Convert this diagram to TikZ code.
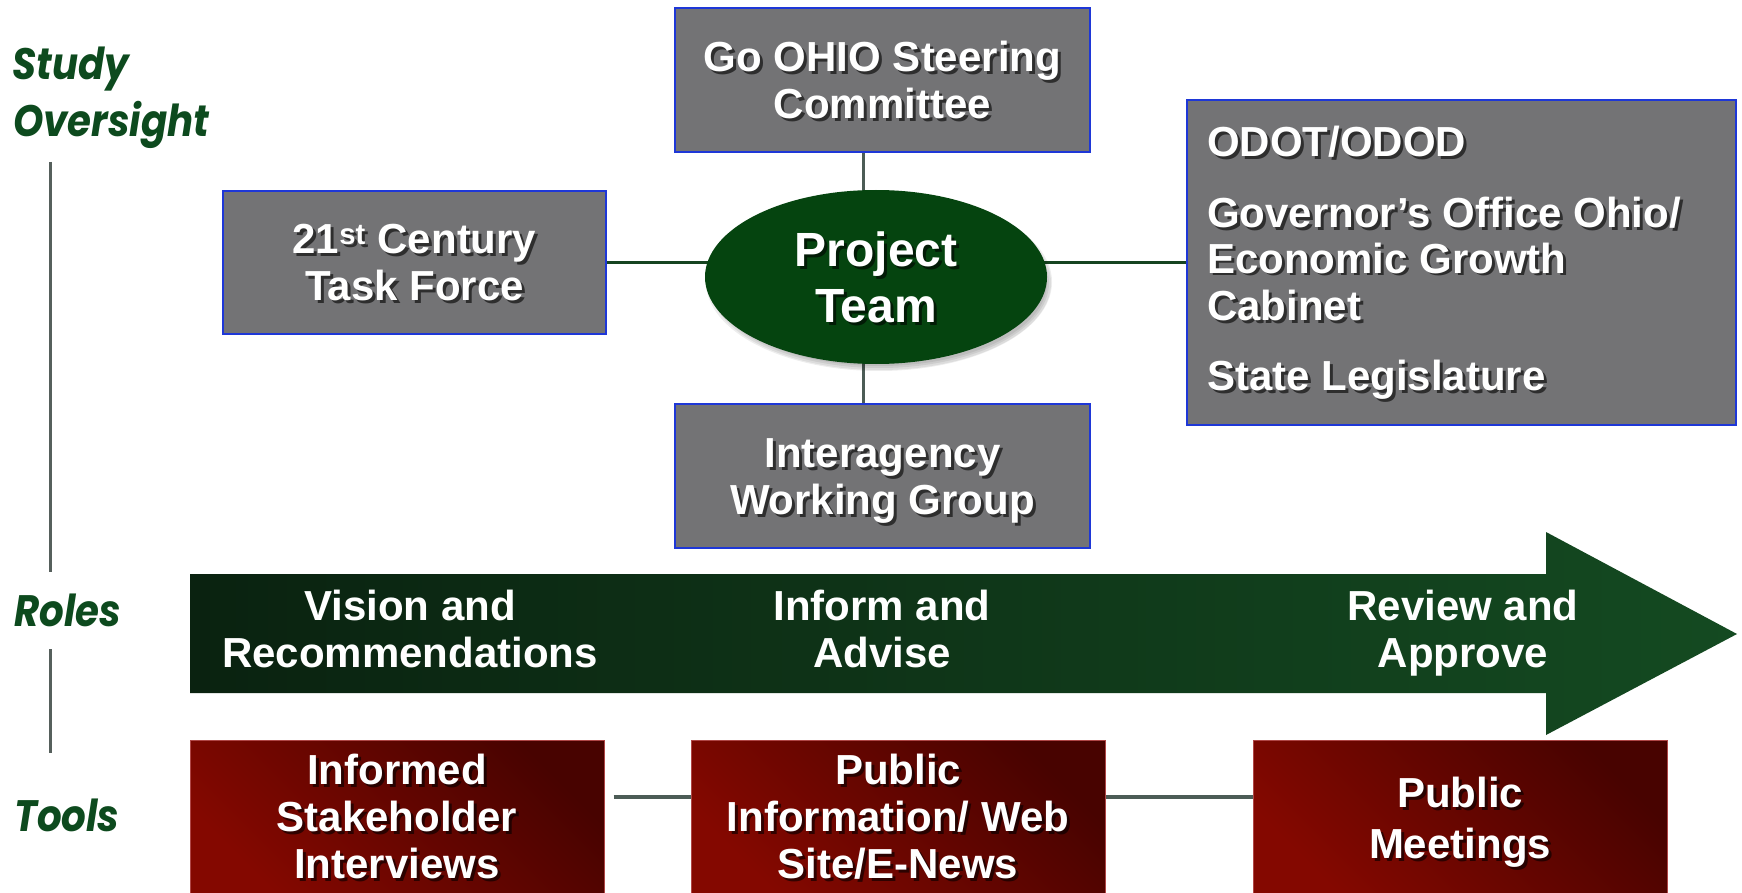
\documentclass[tikz,border=0pt]{standalone}
\usepackage{fontspec}
\setmainfont{Liberation Sans}
\newfontfamily\labfont{Poppins}[FakeStretch=0.88]
\usetikzlibrary{shapes.geometric,backgrounds}
\definecolor{boxgray}{RGB}{115,115,117}
\definecolor{boxblue}{RGB}{30,55,215}
\definecolor{ellgreen}{RGB}{5,68,15}
\definecolor{labgreen}{RGB}{13,74,30}
\definecolor{arrowL}{RGB}{10,34,16}
\definecolor{arrowR}{RGB}{20,74,33}
\definecolor{redL}{RGB}{132,8,0}
\definecolor{redD}{RGB}{72,3,0}
\definecolor{redEdge}{RGB}{175,70,70}
\definecolor{linkgray}{RGB}{76,92,86}
\definecolor{linkgreen}{RGB}{22,68,32}
\definecolor{timeline}{RGB}{86,96,92}
\tikzset{
  graybox/.style={draw=boxblue, line width=2.5pt, fill=boxgray, inner sep=0pt},
  toolbox/.style={draw=redEdge, line width=1pt, top color=redD, bottom color=redL,
    shading angle=-45, inner sep=0pt},
  txt/.style={font=\fontsize{42}{47}\selectfont\bfseries, align=center, text=white, inner sep=0pt},
  bigtxt/.style={font=\fontsize{48}{56}\selectfont\bfseries, align=center, text=white, inner sep=0pt},
  lab/.style={font=\fontsize{44}{50}\selectfont\labfont\bfseries\itshape, text=labgreen, inner sep=0pt},
  vlink/.style={draw=linkgray, line width=3pt},
  hlink/.style={draw=linkgreen, line width=3.5pt},
  toollink/.style={draw=linkgray, line width=3.5pt},
  ellshadow/.style={ellipse, fill=black, opacity=.07, inner sep=0pt},
}
\newcommand\shadowtext[4][]{%
  \node[txt,#1,text=black,opacity=.6,text opacity=.6] at ([shift={(3pt,-3pt)}]#3) {#4};
  \node[txt,#1] (#2) at (#3) {#4};}
\begin{document}
\begin{tikzpicture}[x=1pt,y=-1pt]
\useasboundingbox (0,0) rectangle (1742,893);
% labels
\node[lab, anchor=base west] (study) at (12,80) {Study};
\node[lab, anchor=base west] (over) at (13,137) {Oversight};
\node[lab, anchor=base west] (roles) at (14,626) {Roles};
\node[lab, anchor=base west] (tools) at (14,831) {Tools};
\draw[timeline, line width=3pt] (50,162) -- (50,572);
\draw[timeline, line width=3pt] (50,649) -- (50,753);
% boxes
\node[graybox, minimum width=383pt, minimum height=143pt] (tf) at (414.5,262.5) {};
\node[graybox, minimum width=415pt, minimum height=144pt] (go) at (882.5,80) {};
\node[graybox, minimum width=415pt, minimum height=144pt] (ia) at (882.5,476) {};
\node[graybox, minimum width=549pt, minimum height=325pt] (odot) at (1461.5,262.5) {};
% soft shadow of the ellipse
\node[ellshadow, minimum width=346pt, minimum height=178pt] at (879,282) {};
\node[ellshadow, minimum width=342pt, minimum height=174pt] at (880,283) {};
\node[ellshadow, minimum width=338pt, minimum height=170pt] at (880,283) {};
\node[ellshadow, minimum width=334pt, minimum height=166pt] at (880,283) {};
\node[ellipse, fill=ellgreen, minimum width=342pt, minimum height=174pt, inner sep=0pt] (pt) at (876,277) {};
% connectors
\begin{pgfonlayer}{background}
\fill[white] (0,0) rectangle (1742,893);
\draw[vlink] ([xshift=-19.5pt]go.south) -- ([xshift=-19.5pt]ia.north);
\draw[hlink] (tf.east) -- (odot.west |- tf.east);
\end{pgfonlayer}
% texts
\shadowtext{tft}{tf.center}{21\textsuperscript{st} Century\\Task Force}
\shadowtext{got}{go.center}{Go OHIO Steering\\Committee}
\shadowtext{iat}{882.5,481}{Interagency\\Working Group}
\shadowtext[bigtxt]{ptt}{pt.center}{Project\\Team}
\shadowtext[anchor=base west]{o1}{1207,157}{ODOT/ODOD}
\shadowtext[anchor=base west]{o2}{1207,228}{Governor’s Office Ohio/}
\shadowtext[anchor=base west]{o3}{1207,273}{Economic Growth}
\shadowtext[anchor=base west]{o4}{1207,320}{Cabinet}
\shadowtext[anchor=base west]{o5}{1207,390}{State Legislature}
% roles arrow
\path[left color=arrowL, right color=arrowR] (190,574) -- (1546,574) -- (1546,532) -- (1737,634)
  -- (1546,735) -- (1546,693) -- (190,693) -- cycle;
\node[txt] (r1) at (410,629) {Vision and\\Recommendations};
\node[txt] (r2) at (882,629) {Inform and\\Advise};
\node[txt] (r3) at (1463,633.5) {Review and\\Approve};
% tools
\node[toolbox, minimum width=414pt, minimum height=153pt] (t1) at (397,816.5) {};
\node[toolbox, minimum width=414pt, minimum height=153pt] (t2) at (898,816.5) {};
\node[toolbox, minimum width=414pt, minimum height=153pt] (t3) at (1460,816.5) {};
\draw[toollink] ([shift={(9pt,19.5pt)}]t1.east) -- ([yshift=19.5pt]t2.west);
\draw[toollink] ([yshift=19.5pt]t2.east) -- ([yshift=19.5pt]t3.west);
\shadowtext{t1t}{t1.center}{Informed\\Stakeholder\\Interviews}
\shadowtext{t2t}{t2.center}{Public\\Information/ Web\\Site/E-News}
\shadowtext[font=\fontsize{42}{51}\selectfont\bfseries]{t3t}{1460,822}{Public\\Meetings}
\end{tikzpicture}
\end{document}
